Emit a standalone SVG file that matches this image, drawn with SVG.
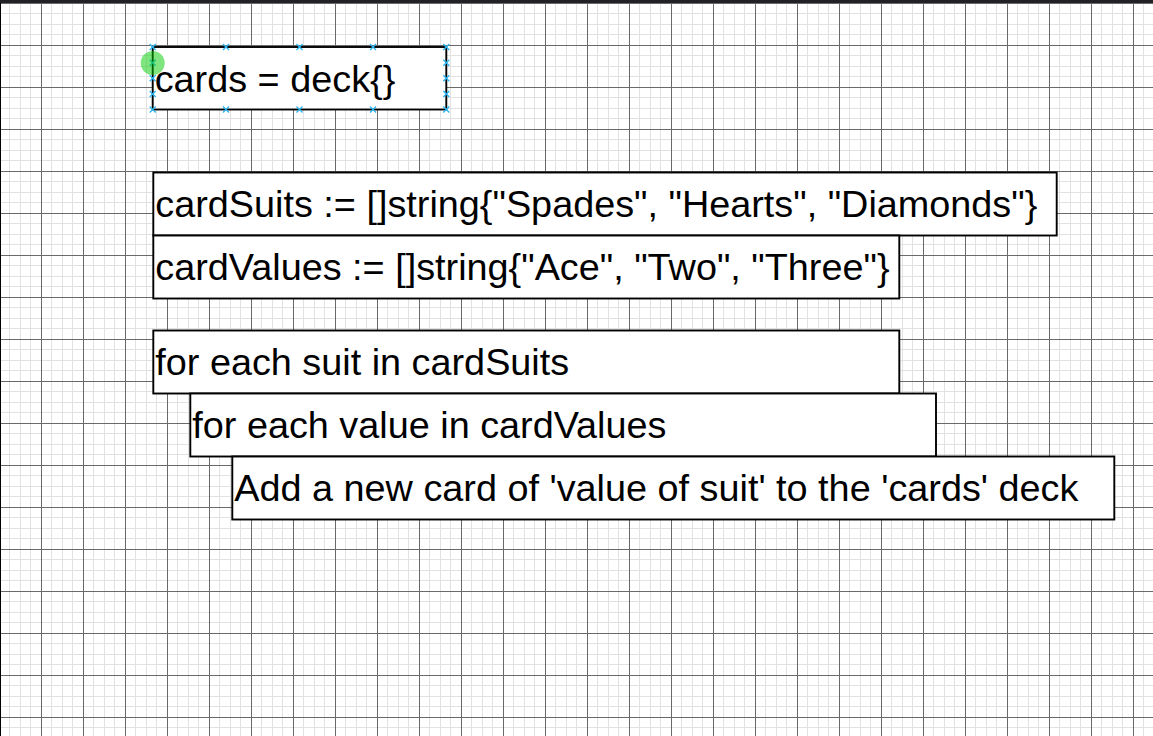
<svg xmlns="http://www.w3.org/2000/svg" width="1153" height="736" viewBox="0 0 1153 736">
<style>
.box{fill:#ffffff;stroke:#000000;stroke-width:1.9}
.lbl{font-family:"Liberation Sans",Arial,sans-serif;font-size:37.8px;fill:#000000}
.h{stroke:#29b6f2;stroke-width:1.3;fill:none}
</style>
<defs>
<pattern id="grid" x="41" y="45" width="42" height="42" patternUnits="userSpaceOnUse">
<rect x="10" y="0" width="1" height="42" fill="#e2e2e2"/>
<rect x="21" y="0" width="1" height="42" fill="#e2e2e2"/>
<rect x="31" y="0" width="1" height="42" fill="#e2e2e2"/>
<rect x="0" y="10" width="42" height="1" fill="#e2e2e2"/>
<rect x="0" y="21" width="42" height="1" fill="#e2e2e2"/>
<rect x="0" y="31" width="42" height="1" fill="#e2e2e2"/>
<rect x="0" y="0" width="1" height="42" fill="#6a6a6a"/>
<rect x="0" y="0" width="42" height="1" fill="#6a6a6a"/>
</pattern>
<path id="hx" d="M-3,-3L3,3M-3,3L3,-3"/>
</defs>
<rect x="0" y="0" width="1153" height="736" fill="#ffffff"/>
<rect x="0" y="0" width="1153" height="736" fill="url(#grid)"/>
<rect x="0" y="0" width="1153" height="3" fill="#222226"/>
<rect x="0" y="3" width="1" height="733" fill="#000000"/>
<g id="connectors"/>
<g id="node-cards">
<rect class="box" x="152.7" y="47" width="293.6" height="62.5"/>
<text class="lbl" x="154.7" y="91.5">cards = deck{}</text>
</g>
<g id="node-cardSuits">
<rect class="box" x="153.3" y="172.5" width="903.4" height="63"/>
<text class="lbl" x="155.3" y="217">cardSuits := []string{"Spades", "Hearts", "Diamonds"}</text>
</g>
<g id="node-cardValues">
<rect class="box" x="153.3" y="235.5" width="746" height="63"/>
<text class="lbl" x="155.3" y="280">cardValues := []string{"Ace", "Two", "Three"}</text>
</g>
<g id="node-forSuit">
<rect class="box" x="153.3" y="330.5" width="746" height="63"/>
<text class="lbl" x="155.3" y="375">for each suit in cardSuits</text>
</g>
<g id="node-forValue">
<rect class="box" x="190.3" y="393.5" width="745.7" height="63"/>
<text class="lbl" x="192.3" y="438">for each value in cardValues</text>
</g>
<g id="node-addCard">
<rect class="box" x="232.3" y="456.5" width="882" height="63"/>
<text class="lbl" x="234.3" y="501">Add a new card of 'value of suit' to the 'cards' deck</text>
</g>
<g id="selection">
<use href="#hx" class="h" x="152.7" y="47"/>
<use href="#hx" class="h" x="226" y="47"/>
<use href="#hx" class="h" x="299.5" y="47"/>
<use href="#hx" class="h" x="373" y="47"/>
<use href="#hx" class="h" x="446.3" y="47"/>
<use href="#hx" class="h" x="152.7" y="109.5"/>
<use href="#hx" class="h" x="226" y="109.5"/>
<use href="#hx" class="h" x="299.5" y="109.5"/>
<use href="#hx" class="h" x="373" y="109.5"/>
<use href="#hx" class="h" x="446.3" y="109.5"/>
<use href="#hx" class="h" x="152.7" y="62.75"/>
<use href="#hx" class="h" x="152.7" y="78.25"/>
<use href="#hx" class="h" x="152.7" y="94"/>
<use href="#hx" class="h" x="446.3" y="62.75"/>
<use href="#hx" class="h" x="446.3" y="78.25"/>
<use href="#hx" class="h" x="446.3" y="94"/>
<circle cx="152.7" cy="63" r="12" fill="#00cc00" fill-opacity="0.5"/>
</g>
</svg>
